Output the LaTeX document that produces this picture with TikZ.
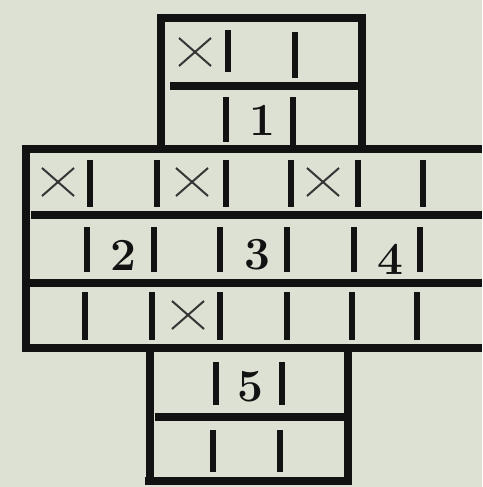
\documentclass[tikz,border=0pt]{standalone}
\usepackage{xcolor}
\definecolor{paper}{RGB}{221,225,211}
\definecolor{ink}{RGB}{18,18,18}
\tikzset{
  wall/.style={line width=7.5pt, draw=ink},
  bar/.style={line width=6.5pt, draw=ink},
  crossline/.style={line width=2pt, draw=ink!85},
  num/.style={font=\fontsize{46}{46}\selectfont\bfseries, text=ink, inner sep=0pt}
}
\newcommand{\crossmark}[2]{\draw[crossline] (#1-16,#2-14) -- (#1+16,#2+14) (#1-16,#2+14) -- (#1+16,#2-14);}
\begin{document}
\begin{tikzpicture}[x=1pt,y=-1pt]
\fill[paper] (0,0) rectangle (482,487);
\useasboundingbox (0,0) rectangle (482,487);
% top box
\draw[wall] (161,15) -- (161,151);
\draw[wall] (157,18) -- (366,18);
\draw[wall] (362,15) -- (362,151);
\draw[wall] (170,86) -- (362,86);
\draw[bar] (228,30) -- (228,72);
\draw[bar] (295,32) -- (295,78);
\draw[bar] (226,97) -- (226,142);
\draw[bar] (293,97) -- (293,146);
\crossmark{195}{52}
\node[num] (n1) at (262,120) {1};
% middle box
\draw[wall] (22,149) -- (482,149);
\draw[wall] (26,145) -- (26,352);
\draw[wall] (22,348) -- (482,348);
\draw[wall] (31,215) -- (482,215);
\draw[wall] (28,283) -- (482,283);
\foreach \x in {90,157,226,291,358,423} \draw[bar] (\x,160) -- (\x,207);
\foreach \x in {87,154,220,287,354,420} \draw[bar] (\x,227) -- (\x,272);
\foreach \x in {85,152,220,287,352,417} \draw[bar] (\x,292) -- (\x,340);
\crossmark{58}{182}
\crossmark{192}{182}
\crossmark{323}{182}
\crossmark{188}{315}
\node[num] (n2) at (123,255) {2};
\node[num] (n3) at (257,255) {3};
\node[num] (n4) at (390,259) {4};
% bottom box
\draw[wall] (150,348) -- (150,484);
\draw[wall] (348,348) -- (348,484);
\draw[wall] (155,417) -- (345,417);
\draw[wall] (145,481) -- (352,481);
\draw[bar] (216,362) -- (216,405);
\draw[bar] (282,362) -- (282,405);
\draw[bar] (213,430) -- (213,472);
\draw[bar] (280,430) -- (280,472);
\node[num] (n5) at (250,387) {5};
\end{tikzpicture}
\end{document}
